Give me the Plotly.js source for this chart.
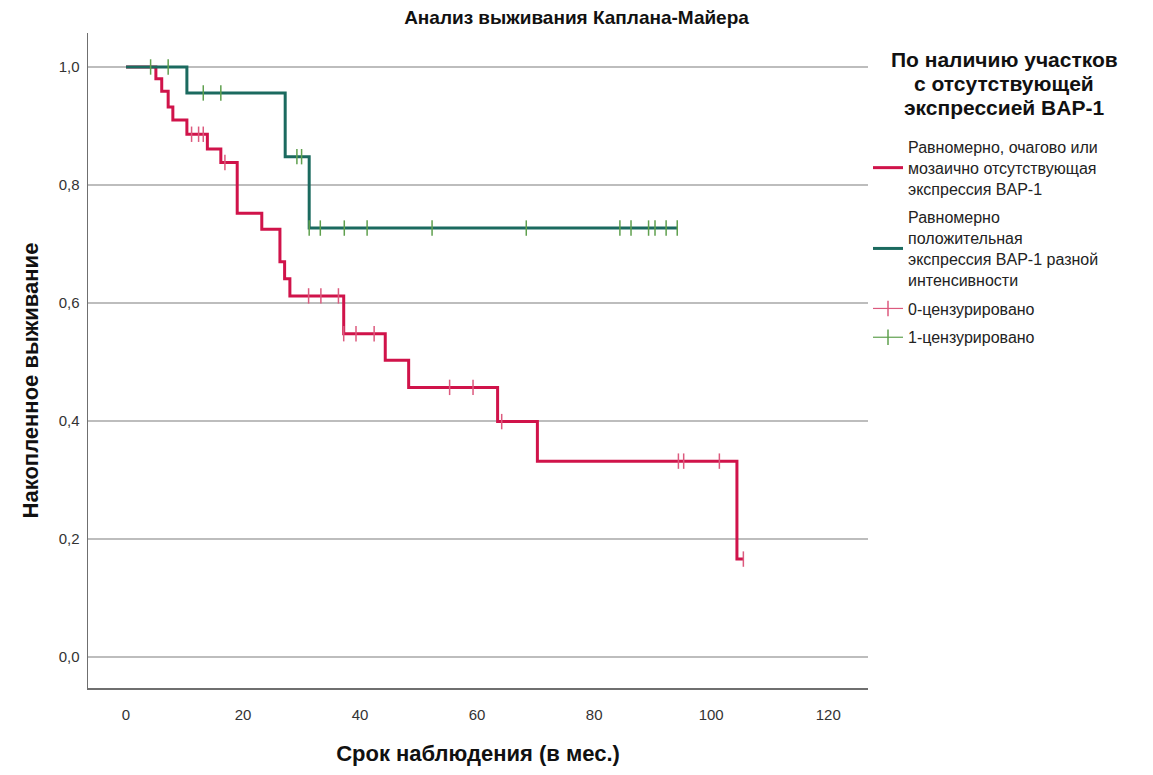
<!DOCTYPE html>
<html>
<head>
<meta charset="utf-8">
<script src="https://cdn.plot.ly/plotly-3.0.1.min.js"></script>
<style>html,body{margin:0;padding:0;background:#fff;}#chart{width:1153px;height:775px;}</style>
</head>
<body>
<div id="chart"></div>
<script>
// ---- Data ----
const redTimes = [0, 5.1, 6.1, 7.2, 8.0, 10.4, 13.9, 16.2, 19.0, 23.2, 26.3, 27.1, 28.0, 37.2, 44.3, 48.3, 63.5, 70.3, 104.4, 105.5];
const redSurv  = [1.0, 0.980, 0.959, 0.932, 0.910, 0.886, 0.861, 0.838, 0.752, 0.725, 0.670, 0.641, 0.612, 0.548, 0.503, 0.457, 0.399, 0.332, 0.166, 0.166];
const redCensorTimes = [11.2, 12.4, 13.2, 16.9, 31.2, 33.3, 36.3, 37.2, 39.3, 42.4, 55.3, 59.3, 64.2, 94.4, 95.3, 101.4, 105.5];
const redCensorSurv  = [0.886, 0.886, 0.886, 0.838, 0.612, 0.612, 0.612, 0.548, 0.548, 0.548, 0.457, 0.457, 0.399, 0.332, 0.332, 0.332, 0.166];

const greenTimes = [0, 10.4, 27.2, 31.3, 94.2];
const greenSurv  = [1.0, 0.956, 0.848, 0.727, 0.727];
const greenCensorTimes = [4.2, 7.2, 13.2, 16.2, 29.2, 30.0, 31.3, 33.2, 37.3, 41.2, 52.3, 68.4, 84.4, 86.3, 89.3, 90.4, 92.3, 94.2];
const greenCensorSurv  = [1.0, 1.0, 0.956, 0.956, 0.848, 0.848, 0.727, 0.727, 0.727, 0.727, 0.727, 0.727, 0.727, 0.727, 0.727, 0.727, 0.727, 0.727];

const seriesNames = [
  "Равномерно, очагово или<br>мозаично отсутствующая<br>экспрессия BAP-1",
  "Равномерно<br>положительная<br>экспрессия BAP-1 разной<br>интенсивности",
  "0-цензурировано",
  "1-цензурировано"
];
const legendTitleLines = ["По наличию участков", "с отсутствующей", "экспрессией BAP-1"];
const xTicks = [0, 20, 40, 60, 80, 100, 120];
const yTicks = [0, 0.2, 0.4, 0.6, 0.8, 1.0];

// ---- Helpers: isolate censor points so only markers are drawn ----
function isolate(arr) { const out = []; arr.forEach(v => { out.push(v); out.push(null); }); return out; }

const FONT = "Liberation Sans, Arial, sans-serif";
const RED = "#d0134a", GREEN = "#1b6a5f", RED_C = "#dc5a7e", GREEN_C = "#5fa04e";

const traces = [
  {x: redTimes, y: redSurv, type: "scatter", mode: "lines", line: {shape: "hv", color: RED, width: 3}, name: seriesNames[0], legendgroup: "g1"},
  {x: greenTimes, y: greenSurv, type: "scatter", mode: "lines", line: {shape: "hv", color: GREEN, width: 3}, name: seriesNames[1], legendgroup: "g2"},
  {x: isolate(redCensorTimes), y: isolate(redCensorSurv), type: "scatter", mode: "lines+markers", connectgaps: false,
   line: {color: RED_C, width: 1.2}, legendgroup: "g3",
   marker: {symbol: "line-ns", size: 11, color: RED_C, line: {color: RED_C, width: 1.5}}, name: seriesNames[2]},
  {x: isolate(greenCensorTimes), y: isolate(greenCensorSurv), type: "scatter", mode: "lines+markers", connectgaps: false,
   line: {color: GREEN_C, width: 1.2}, legendgroup: "g4",
   marker: {symbol: "line-ns", size: 11, color: GREEN_C, line: {color: GREEN_C, width: 1.5}}, name: seriesNames[3]}
];

const annotations = [{text: "<b>Накопленное выживание</b>", textangle: -90, xref: "paper", yref: "paper",
                 x: -0.074, y: 0.47, xanchor: "center", yanchor: "middle", showarrow: false,
                 font: {family: FONT, size: 22, color: "#111"}}];
const legendTitleY = [60, 84, 108];
legendTitleLines.forEach((t, i) => annotations.push({
  text: "<b>" + t + "</b>", xref: "paper", yref: "paper",
  x: (1004 - 88) / 780, y: (688 - legendTitleY[i]) / 655, xanchor: "center", yanchor: "middle",
  showarrow: false, font: {family: FONT, size: 21, color: "#111"}
}));

const layout = {
  width: 1153, height: 775,
  paper_bgcolor: "#fff", plot_bgcolor: "#fff",
  separators: ", ",
  font: {family: FONT, size: 14, color: "#222"},
  margin: {l: 88, r: 285, t: 33, b: 87},
  showlegend: true,
  title: {text: "<b>Анализ выживания Каплана-Майера</b>", x: 0.5, xref: "container", y: 0.977, yref: "container", yanchor: "middle",
          font: {family: FONT, size: 19, color: "#111"}},
  xaxis: {range: [-6.5, 126.8], tickvals: xTicks, showgrid: false, zeroline: false, showline: true, linecolor: "#6f6f6f", linewidth: 1.5,
          ticks: "", ticklabelstandoff: 12, tickfont: {family: FONT, size: 15, color: "#333"},
          title: {text: "<b>Срок наблюдения (в мес.)</b>", font: {family: FONT, size: 22, color: "#111"}, standoff: 24}},
  yaxis: {range: [-0.0525, 1.0576], tickvals: yTicks, tickformat: ".1f", showgrid: true, gridcolor: "#bdbdbd", gridwidth: 1.3,
          zeroline: false, showline: true, linecolor: "#6f6f6f", linewidth: 1.5, ticks: "", ticklabelstandoff: 4,
          tickfont: {family: FONT, size: 15, color: "#333"}},
  annotations: annotations,
  legend: {x: 1.0, xanchor: "left", y: 0.852, yanchor: "top", bgcolor: "rgba(0,0,0,0)", tracegroupgap: 5,
           font: {family: FONT, size: 16, color: "#222"}, itemwidth: 30}
};

Plotly.newPlot("chart", traces, layout, {displayModeBar: false, staticPlot: true});
</script>
</body>
</html>
